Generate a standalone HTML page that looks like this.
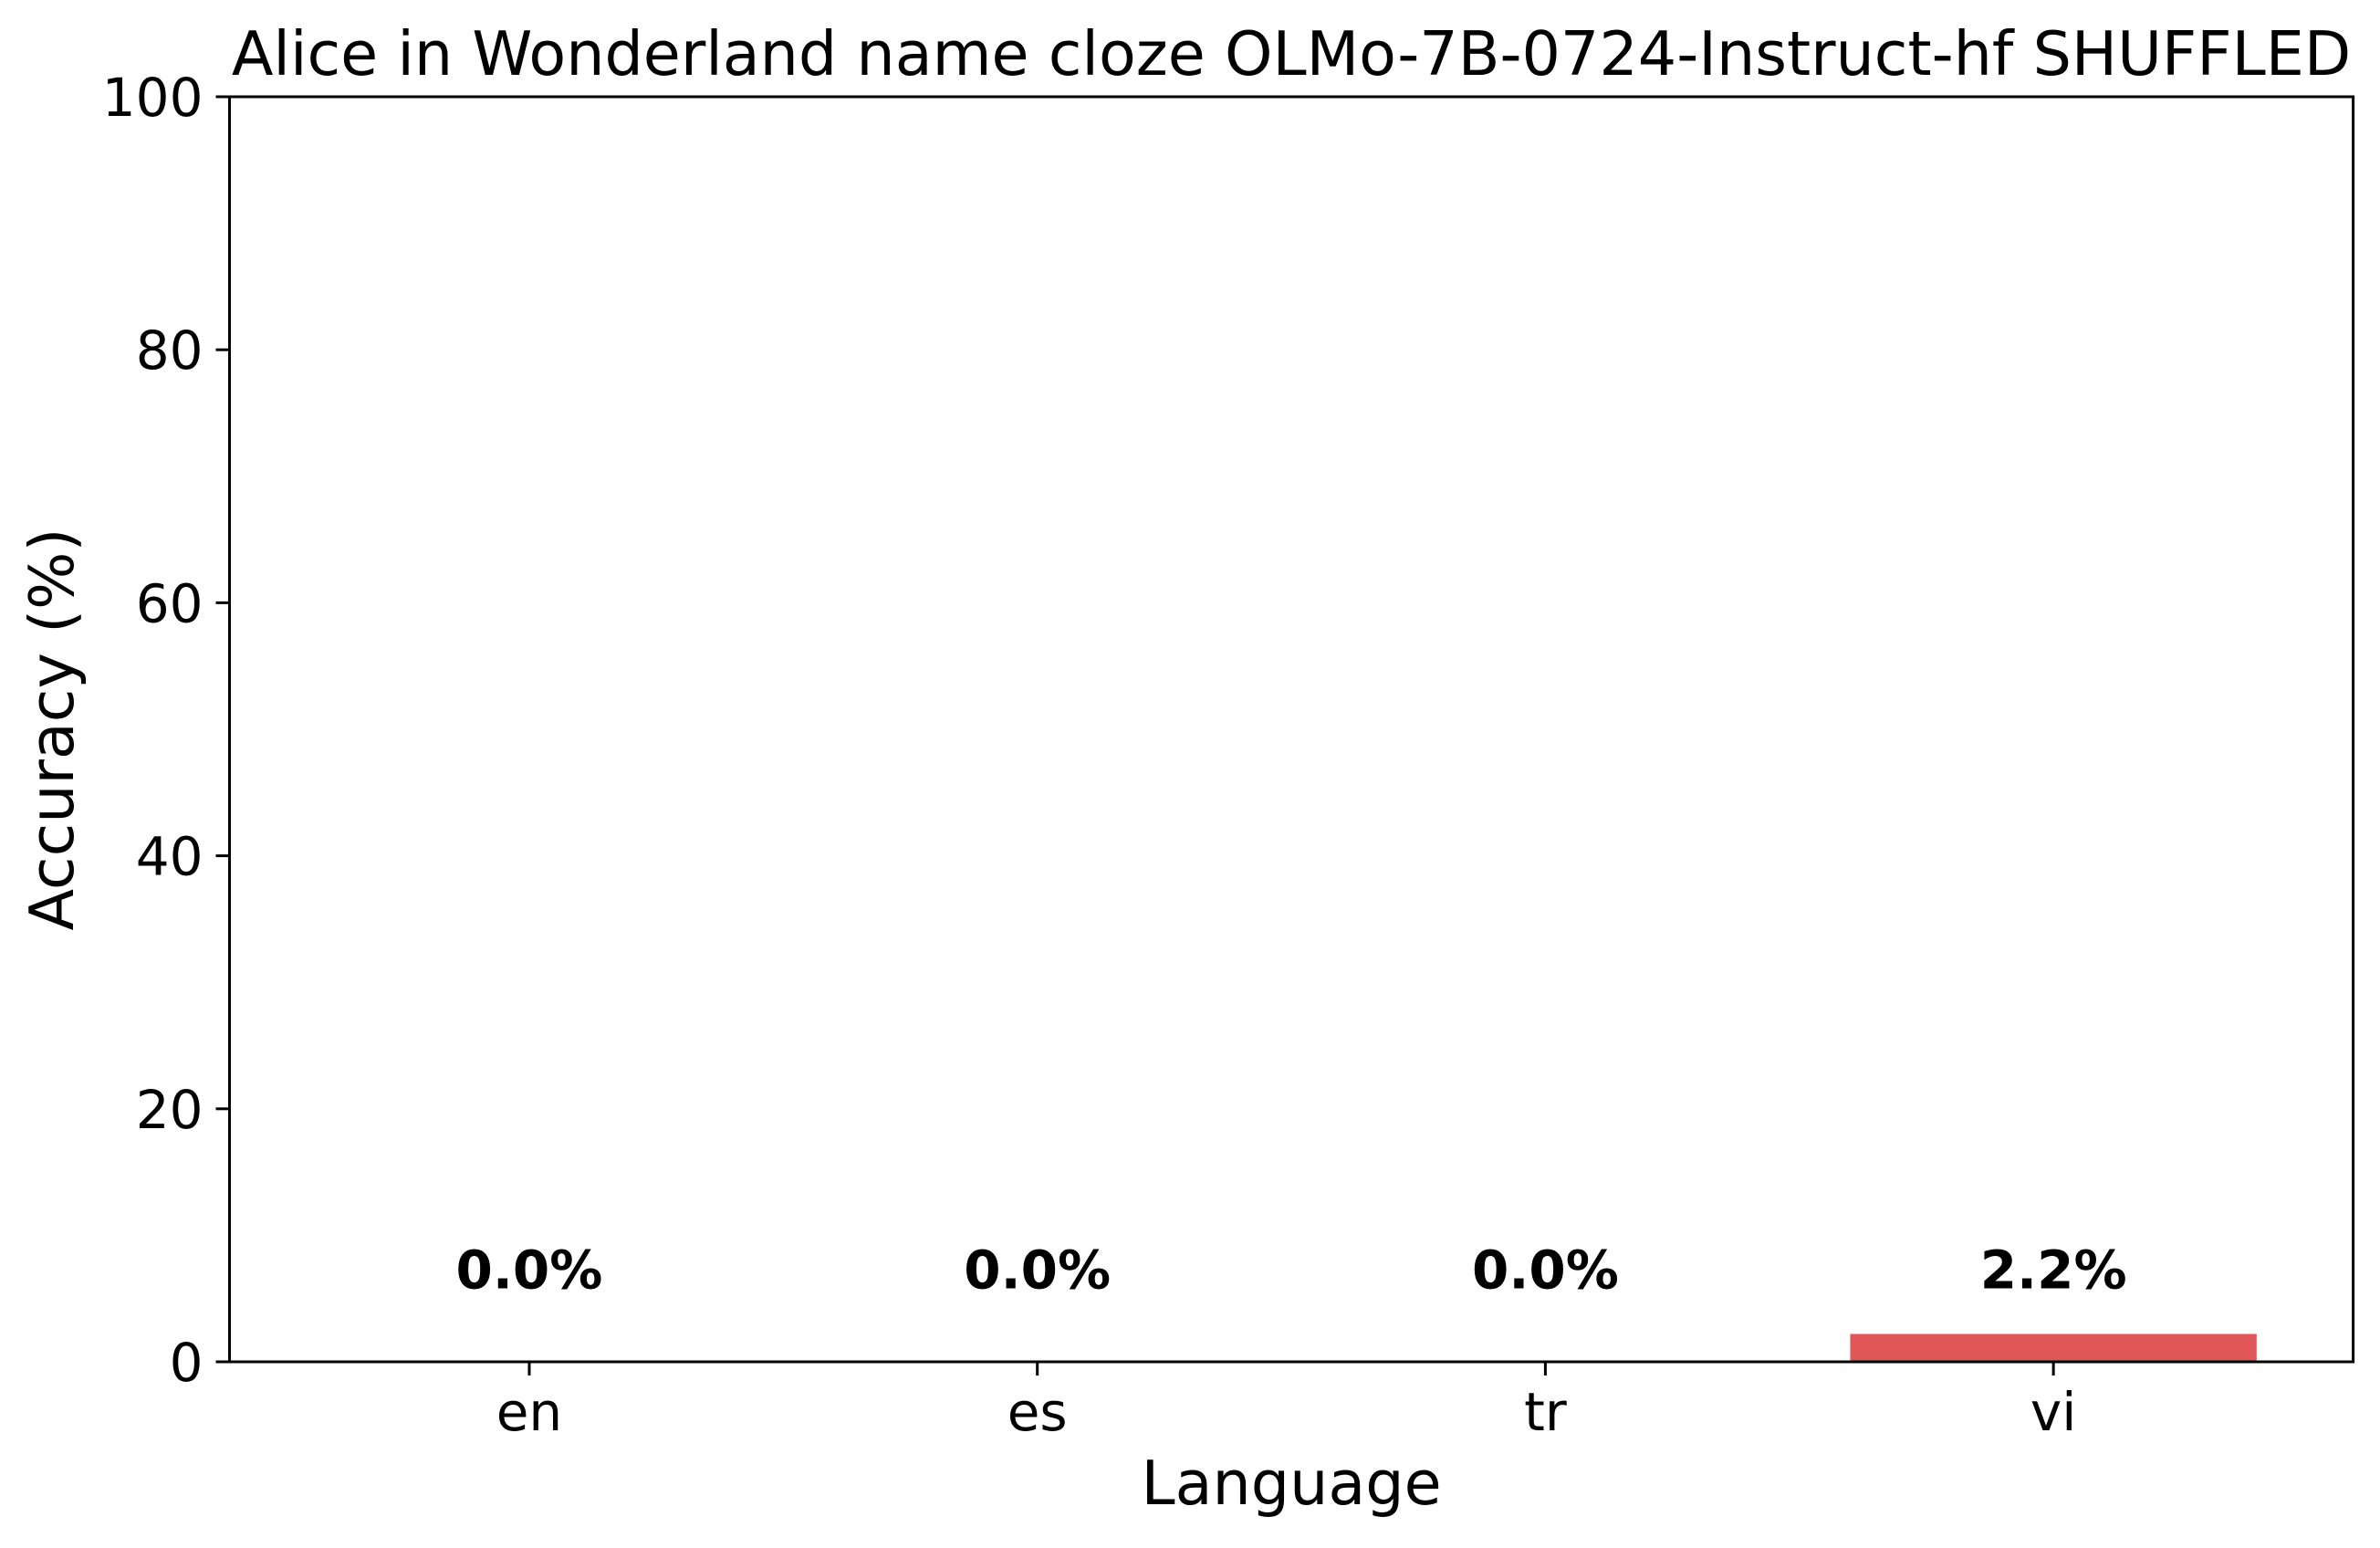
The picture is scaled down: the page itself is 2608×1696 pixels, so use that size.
<!DOCTYPE html>
<html><head><meta charset="utf-8"><style>
html,body{margin:0;padding:0;background:#fff;}
svg text{font-family:"DejaVu Sans","Liberation Sans",sans-serif;fill:#000;}
</style></head><body>
<svg id="chart" width="2608" height="1691" viewBox="0 0 2608 1691" xmlns="http://www.w3.org/2000/svg">
<rect width="2608" height="1691" fill="#fff"/>
<g id="plot"></g>
</svg>
<script>
const categories = ["en","es","tr","vi"];
const values = [0.0, 0.0, 0.0, 2.2];
const yTicks = [0,20,40,60,80,100];
const NS="http://www.w3.org/2000/svg";
const L=251.5,R=2578.6,T=106,B=1492;
const n=categories.length;
const xmin=-0.59,xmax=n-1+0.59;
function x(v){return L+(v-xmin)/(xmax-xmin)*(R-L);}
function y(v){return B-(v/100)*(B-T);}
const g=document.getElementById('plot');
function mk(tag,attrs,text){const e=document.createElementNS(NS,tag);for(const k in attrs)e.setAttribute(k,attrs[k]);if(text!==undefined)e.textContent=text;g.appendChild(e);return e;}
const bw=(x(0.8)-x(0));
categories.forEach((c,i)=>{
  const v=values[i];
  const r=mk('rect',{x:x(i)-bw/2,y:y(v),width:bw,height:B-y(v),fill:'#e15759'});
  
  
  const t=mk('text',{x:x(i),y:y(5)-11,'text-anchor':'middle','font-size':'58','font-weight':'bold'},v.toFixed(1)+'%');
  
  
  const tk=mk('line',{x1:x(i),x2:x(i),y1:B,y2:B+15,stroke:'#000','stroke-width':'3'});
  
  
  const tl=mk('text',{x:x(i),y:1567,'text-anchor':'middle','font-size':'58'},c);
  
  
});
yTicks.forEach(v=>{
  const tk=mk('line',{x1:L-15,x2:L,y1:y(v),y2:y(v),stroke:'#000','stroke-width':'3'});
  
  
  const tl=mk('text',{x:L-29,y:y(v)+21,'text-anchor':'end','font-size':'58'},String(v));
  
  
});
const fr=mk('rect',{x:L,y:T,width:R-L,height:B-T,fill:'none',stroke:'#000','stroke-width':'3'});


const ti=mk('text',{x:(L+R)/2,y:82,'text-anchor':'middle','font-size':'66.7'},'Alice in Wonderland name cloze OLMo-7B-0724-Instruct-hf SHUFFLED');


const xl=mk('text',{x:(L+R)/2,y:1648,'text-anchor':'middle','font-size':'66.7'},'Language');


const yl=mk('text',{x:0,y:0,'text-anchor':'middle','font-size':'66.7',transform:'translate(80,'+((T+B)/2)+') rotate(-90)'},'Accuracy (%)');


</script>
</body></html>
